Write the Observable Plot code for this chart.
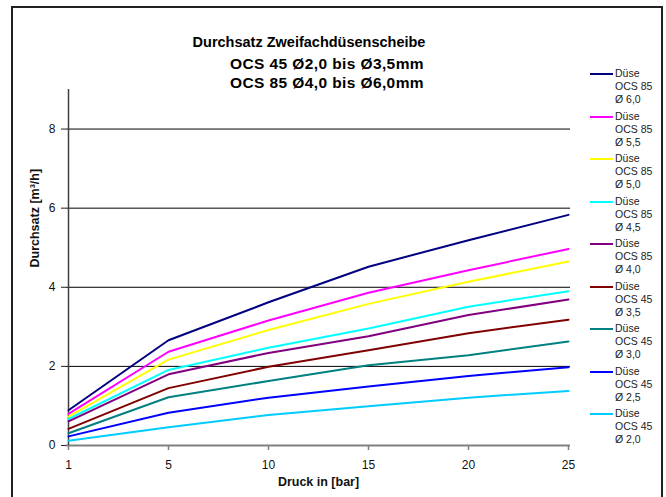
<!DOCTYPE html>
<html>
<head>
<meta charset="utf-8">
<script src="https://cdn.jsdelivr.net/npm/d3@7"></script>
<script src="https://cdn.jsdelivr.net/npm/@observablehq/plot@0.6"></script>
<style>
  html, body { margin: 0; padding: 0; background: #fff; }
  #wrap { position: relative; width: 666px; height: 497px; overflow: hidden; font-family: "Liberation Sans", Arial, sans-serif; }
  #frame { position: absolute; left: 11px; top: 6px; width: 648px; height: 520px; border: 2px solid #222; pointer-events: none; }
  .title { position: absolute; font-weight: bold; font-size: 15px; line-height: 19px; white-space: nowrap; transform: translateX(-50%); color: #000; }
  .leg { position: absolute; left: 590px; font-size: 10.5px; line-height: 13px; color: #222; }
  .leg .sw { position: absolute; left: 0; top: 6px; width: 23px; height: 2px; }
  .leg .tx { position: absolute; left: 25px; top: 0; white-space: nowrap; }
  svg { position: absolute; left: 0; top: 0; }
</style>
</head>
<body>
<div id="wrap"></div>
<script>
// ---- data ----
const pressures = [1, 5, 10, 15, 20, 25];
const seriesNames = ["Düse OCS 85 Ø 6,0", "Düse OCS 85 Ø 5,5", "Düse OCS 85 Ø 5,0", "Düse OCS 85 Ø 4,5", "Düse OCS 85 Ø 4,0",
                     "Düse OCS 45 Ø 3,5", "Düse OCS 45 Ø 3,0", "Düse OCS 45 Ø 2,5", "Düse OCS 45 Ø 2,0"];
const legendLines = [
  ["Düse", "OCS 85", "Ø 6,0"], ["Düse", "OCS 85", "Ø 5,5"], ["Düse", "OCS 85", "Ø 5,0"],
  ["Düse", "OCS 85", "Ø 4,5"], ["Düse", "OCS 85", "Ø 4,0"], ["Düse", "OCS 45", "Ø 3,5"],
  ["Düse", "OCS 45", "Ø 3,0"], ["Düse", "OCS 45", "Ø 2,5"], ["Düse", "OCS 45", "Ø 2,0"]
];
const seriesColors = ["#000080", "#FF00FF", "#FFFF00", "#00FFFF", "#800080", "#800000", "#008080", "#0000FF", "#00CCFF"];
const d60 = [0.89, 2.66, 3.62, 4.52, 5.19, 5.83];
const d55 = [0.80, 2.37, 3.16, 3.86, 4.43, 4.97];
const d50 = [0.73, 2.17, 2.92, 3.58, 4.14, 4.65];
const d45 = [0.67, 1.91, 2.47, 2.96, 3.51, 3.90];
const d40 = [0.61, 1.80, 2.34, 2.76, 3.30, 3.69];
const d35 = [0.42, 1.45, 1.99, 2.41, 2.84, 3.18];
const d30 = [0.31, 1.22, 1.63, 2.03, 2.28, 2.63];
const d25 = [0.23, 0.83, 1.21, 1.49, 1.76, 1.98];
const d20 = [0.12, 0.46, 0.77, 0.99, 1.21, 1.38];
const seriesValues = [d60, d55, d50, d45, d40, d35, d30, d25, d20];
const yTicks = [0, 2, 4, 6, 8];
const yMax = 9;
const titleLines = ["Durchsatz Zweifachdüsenscheibe", "OCS 45 Ø2,0 bis Ø3,5mm", "OCS 85 Ø4,0 bis Ø6,0mm"];
const yLabel = "Durchsatz [m³/h]";
const xLabel = "Druck in [bar]";

// ---- table ----
const rows = [];
seriesNames.forEach((name, i) => {
  pressures.forEach((p, j) => rows.push({series: name, druck: p, value: seriesValues[i][j]}));
});

const chart = Plot.plot({
  width: 666,
  height: 497,
  marginLeft: 66,
  marginRight: 96,
  marginTop: 89,
  marginBottom: 52,
  style: {fontFamily: "'Liberation Sans', Arial, sans-serif", fontSize: "12px", background: "none", color: "#111"},
  x: {type: "point", domain: pressures, padding: 0, label: null},
  y: {domain: [0, yMax], label: null},
  color: {domain: seriesNames, range: seriesColors},
  marks: [
    Plot.ruleY(yTicks.filter(d => d > 0), {stroke: "#000", strokeWidth: 1}),
    Plot.ruleY([0], {stroke: "#808080", strokeWidth: 2}),
    Plot.ruleX([pressures[0]], {y1: 0, y2: yMax, stroke: "#404040", strokeWidth: 1.5}),
    Plot.axisX({tickSize: 5, tickPadding: 10, stroke: "#808080", strokeWidth: 1.5, fontSize: 12}),
    Plot.axisY({ticks: yTicks, tickSize: 5, tickPadding: 6, stroke: "#222", fontSize: 12}),
    Plot.line(rows, {x: "druck", y: "value", z: "series", stroke: "series", strokeWidth: 2}),
    Plot.text([yLabel], {text: d => d, frameAnchor: "left", dx: -32, rotate: -90, fontWeight: "bold", fontSize: 12.5}),
    Plot.text([xLabel], {text: d => d, frameAnchor: "bottom", dy: 40, fontWeight: "bold", fontSize: 12.5})
  ]
});

const wrap = document.getElementById("wrap");
wrap.appendChild(chart);

// titles
const titleCenters = [309, 327, 327];
const titleTops = [33, 54, 73];
const titleSizes = [14.5, 15.5, 15.5];
const titleSpacing = [0, 0.4, 0.4];
titleLines.forEach((t, i) => {
  const el = document.createElement("div");
  el.className = "title";
  el.style.left = titleCenters[i] + "px";
  el.style.top = titleTops[i] + "px";
  el.style.fontSize = titleSizes[i] + "px";
  el.style.letterSpacing = titleSpacing[i] + "px";
  el.textContent = t;
  wrap.appendChild(el);
});

// legend
legendLines.forEach((lines, i) => {
  const el = document.createElement("div");
  el.className = "leg";
  el.style.top = (67 + i * 42.5) + "px";
  const sw = document.createElement("div");
  sw.className = "sw";
  sw.style.background = seriesColors[i];
  const tx = document.createElement("div");
  tx.className = "tx";
  tx.innerHTML = lines.map(s => s.replace(/&/g, "&amp;")).join("<br>");
  el.appendChild(sw);
  el.appendChild(tx);
  wrap.appendChild(el);
});

const frame = document.createElement("div");
frame.id = "frame";
wrap.appendChild(frame);
</script>
</body>
</html>
